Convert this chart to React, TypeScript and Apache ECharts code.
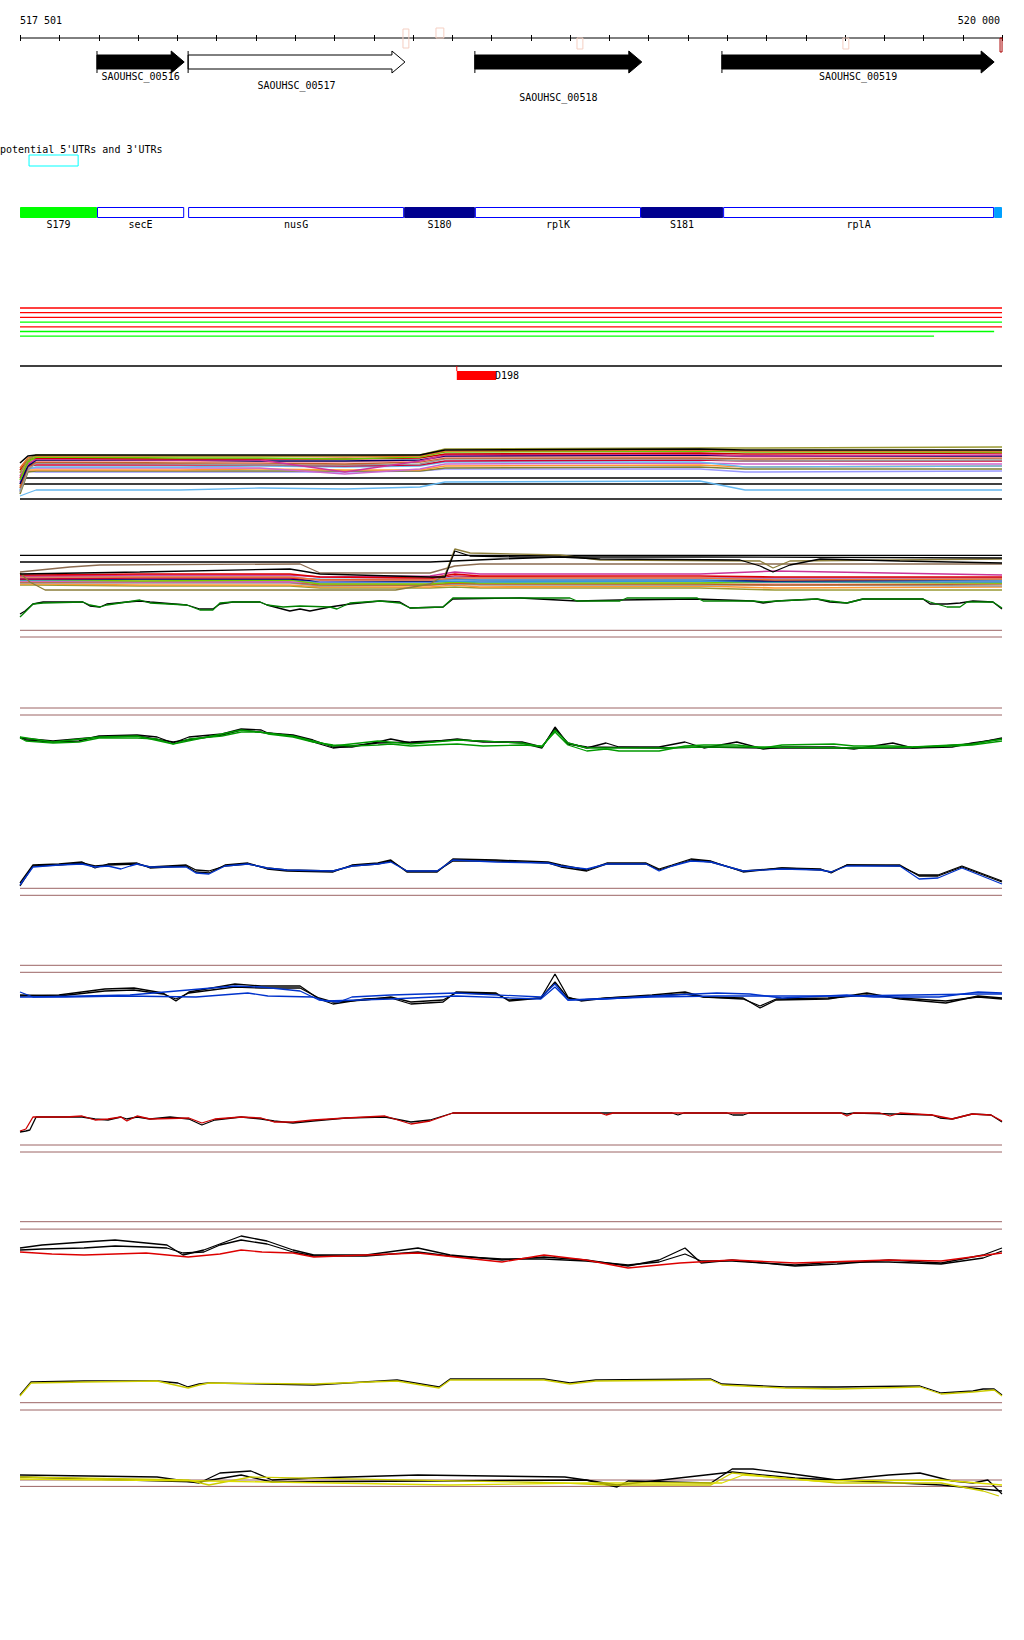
import React, { useEffect, useRef } from "react";
import * as echarts from "echarts";

// ---------- locus ----------
const START = 517500;
const END = 520000;
const FONT_FAMILY = "DejaVu Sans Mono";
const FONT = '10px "DejaVu Sans Mono"';

const rulerTicks = [517500, 517600, 517700, 517800, 517900, 518000, 518100, 518200, 518300, 518400, 518500, 518600, 518700, 518800, 518900, 519000, 519100, 519200, 519300, 519400, 519500, 519600, 519700, 519800, 519900, 520000];
const rulerLabels = ["517 501", "520 000"];

// ---------- genes ----------
const geneNames = ["SAOUHSC_00516", "SAOUHSC_00517", "SAOUHSC_00518", "SAOUHSC_00519"];
const geneStart = [517696, 517928, 518658, 519287];
const geneEnd = [517918, 518480, 519083, 519980];
const geneFilled = [1, 0, 1, 1];
const geneLabelRow = [0, 1, 2, 0];

// small terminator-like boxes near the ruler
const termStart = [518475, 518559, 518918, 519595, 519995];
const termEnd = [518490, 518579, 518933, 519610, 520000];
const termKind = ["both", "up", "down", "down", "end"];

// potential UTRs
const utrLabel = "potential 5'UTRs and 3'UTRs";
const utrStart = [517523];
const utrEnd = [517648];

// segments
const segNames = ["S179", "secE", "nusG", "S180", "rplK", "S181", "rplA", ""];
const segStart = [517500, 517696, 517928, 518478, 518658, 519081, 519290, 519980];
const segEnd = [517696, 517918, 518478, 518658, 519081, 519290, 519980, 520000];
const segType = ["green", "open", "open", "dark", "open", "dark", "open", "light"];

// red / green feature lines
const featColor = ["red", "red", "red", "green", "red", "green", "green"];
const featStart = [517500, 517500, 517500, 517500, 517500, 517500, 517500];
const featEnd = [520000, 520000, 520000, 520000, 520000, 519980, 519827];

// D198
const d198Name = "D198";
const d198Start = [518612];
const d198End = [518712];

// ---------- track A : coverage bundle (positions in bp from 517 500) ----------
const trackA_positions = [0, 20, 41, 407, 611, 827, 1018, 1082, 1731, 1846, 2500];
const trackA_black = [37, 44, 45, 45, 45, 45, 45, 50, 51, 50, 50];
const trackA_olive = [27, 40, 45, 44, 44, 44, 45, 51, 52, 52, 53];
const trackA_orange = [32, 42, 44, 44, 44, 43, 44, 49, 50, 49, 49];
const trackA_lime = [20, 38, 43, 42, 42, 41, 43, 48, 49, 48, 48];
const trackA_red = [30, 40, 42, 41, 41, 41, 42, 46, 47, 46, 47];
const trackA_magenta = [24, 36, 41, 40, 40, 28, 39, 45, 46, 44, 45];
const trackA_navy = [16, 34, 40, 40, 39, 39, 40, 44, 45, 44, 44];
const trackA_pink = [28, 37, 39, 39, 38, 38, 39, 43, 44, 43, 43];
const trackA_sienna = [12, 33, 38, 37, 37, 36, 38, 42, 42, 41, 42];
const trackA_gray = [8, 30, 37, 36, 35, 35, 36, 41, 41, 39, 40];
const trackA_crimson = [22, 34, 35, 35, 35, 34, 35, 39, 40, 39, 39];
const trackA_sky = [10, 31, 33, 33, 34, 33, 34, 38, 38, 33, 34];
const trackA_orchid = [18, 32, 32, 32, 32, 26, 31, 36, 37, 36, 36];
const trackA_orange2 = [14, 30, 30, 30, 31, 30, 30, 34, 35, 33, 34];
const trackA_olive2 = [6, 28, 29, 29, 29, 29, 29, 32, 33, 31, 31];
const trackA_lavender = [9, 29, 28, 28, 28, 28, 29, 31, 31, 28, 29];
const trackA_lightblue = [4, 7, 10, 10, 12, 11, 13, 18, 19, 10, 10];
const trackA_consts = [22, 16, 1];

// ---------- track B : second bundle ----------
const trackB_positions = [0, 38, 305, 687, 764, 1044, 1107, 1171, 1731, 1922, 2500];
const trackB_magenta = [64, 64, 65, 65, 63, 64, 68, 66, 66, 69, 65];
const trackB_red = [65, 65, 66, 66, 63, 62, 66, 64, 64, 63, 63];
const trackB_orange = [63, 63, 63, 63, 60, 60, 62, 62, 62, 60, 61];
const trackB_sky = [62, 62, 62, 62, 61, 60, 60, 60, 60, 61, 60];
const trackB_lime = [60, 60, 59, 60, 56, 56, 58, 57, 57, 58, 57];
const trackB_navy = [61, 61, 61, 61, 59, 59, 61, 60, 60, 59, 60];
const trackB_lavender = [63, 63, 64, 64, 59, 60, 63, 62, 62, 62, 62];
const trackB_sienna = [58, 58, 58, 58, 55, 55, 57, 56, 56, 55, 56];
const trackB_pink = [59, 59, 60, 60, 57, 57, 59, 59, 58, 57, 58];
const trackB_gray = [57, 57, 57, 57, 54, 55, 56, 55, 55, 55, 54];
const trackB_orange2 = [56, 56, 55, 55, 53, 53, 55, 53, 54, 52, 53];
const trackB_olive2 = [55, 55, 54, 54, 52, 52, 53, 52, 52, 50, 50];
const trackB_crimson = [61, 61, 62, 62, 60, 61, 64, 63, 62, 62, 62];
const trackB_orchid = [59, 59, 58, 58, 57, 58, 60, 59, 60, 59, 59];
const trackB_sky2 = [60, 60, 61, 61, 58, 58, 59, 58, 59, 58, 58];
const trackB_brownUpper = [[0, 68], [127, 73], [204, 75], [713, 76], [764, 67], [1044, 67], [1107, 74], [1171, 76], [2500, 76]];
const trackB_blackVar = [[0, 78], [1044, 78], [1222, 81], [1375, 83], [1477, 81], [1833, 80], [1884, 74], [1917, 68], [1960, 75], [2037, 81], [2240, 79], [2500, 77]];
const trackB_blackSpike = [[0, 66], [305, 68], [687, 71], [764, 66], [1044, 63], [1082, 63], [1107, 89], [1146, 84], [1273, 83], [1731, 83], [2500, 82]];
const trackB_oliveSpike = [[0, 67], [25, 58], [64, 50], [956, 50], [1044, 56], [1082, 65], [1107, 91], [1146, 87], [1375, 85], [1477, 80], [1884, 79], [1917, 72], [1960, 79], [2500, 81]];
const trackB_green = [[0, 23], [13, 28], [33, 36], [59, 37], [160, 38], [178, 35], [204, 33], [221, 35], [272, 38], [305, 40], [331, 37], [425, 35], [458, 30], [491, 30], [509, 37], [542, 38], [611, 38], [629, 35], [670, 33], [713, 34], [789, 33], [807, 31], [840, 37], [916, 39], [967, 37], [993, 32], [1077, 33], [1102, 42], [1400, 42], [1418, 39], [1527, 39], [1545, 42], [1724, 42], [1739, 39], [1866, 39], [1892, 38], [1927, 39], [2029, 41], [2062, 39], [2105, 37], [2146, 41], [2299, 41], [2317, 38], [2360, 33], [2393, 33], [2411, 38], [2477, 38], [2500, 32]];
const trackB_black = [[0, 26], [13, 29], [33, 36], [59, 38], [160, 38], [178, 34], [204, 33], [221, 36], [272, 38], [305, 39], [331, 38], [425, 35], [458, 31], [491, 31], [509, 36], [542, 38], [611, 38], [629, 35], [687, 29], [713, 31], [738, 29], [789, 33], [840, 36], [916, 39], [967, 38], [993, 32], [1077, 33], [1102, 41], [1273, 42], [1418, 39], [1527, 40], [1724, 41], [1866, 39], [1892, 37], [1927, 39], [2029, 41], [2062, 38], [2105, 37], [2146, 41], [2299, 41], [2317, 36], [2360, 36], [2393, 37], [2426, 39], [2477, 38], [2500, 31]];
const trackB_blackConsts = [84.7];
const trackB_thresholds = [9.7, 3];

// ---------- track C (green) ----------
const trackC_black1 = [[0, 23], [15, 20], [84, 18], [150, 19], [201, 24], [298, 25], [349, 23], [390, 17], [430, 23], [514, 26], [563, 31], [614, 30], [631, 27], [695, 25], [746, 20], [797, 13], [845, 13], [911, 18], [944, 21], [995, 17], [1044, 18], [1113, 21], [1179, 18], [1278, 18], [1329, 13], [1362, 31], [1395, 17], [1443, 12], [1492, 17], [1525, 13], [1627, 13], [1693, 18], [1741, 12], [1825, 18], [1892, 11], [1940, 13], [2072, 13], [2123, 11], [2222, 17], [2273, 12], [2373, 13], [2424, 17], [2500, 21]];
const trackC_black2 = [[0, 22], [84, 19], [201, 23], [298, 24], [390, 18], [514, 25], [563, 30], [695, 24], [797, 12], [911, 17], [995, 18], [1113, 20], [1278, 17], [1329, 12], [1362, 33], [1395, 16], [1443, 13], [1627, 12], [1741, 13], [1892, 12], [2123, 12], [2273, 12], [2424, 16], [2500, 22]];
const trackC_green1 = [[0, 22], [15, 19], [84, 17], [150, 18], [201, 22], [298, 22], [349, 21], [390, 16], [430, 21], [514, 24], [563, 28], [614, 28], [631, 26], [695, 23], [746, 18], [797, 15], [845, 14], [911, 15], [944, 16], [995, 14], [1044, 15], [1113, 16], [1179, 14], [1278, 15], [1329, 14], [1362, 28], [1395, 15], [1443, 9], [1492, 11], [1525, 9], [1627, 9], [1693, 14], [1741, 15], [1825, 15], [1892, 12], [1940, 15], [2072, 16], [2123, 14], [2222, 14], [2273, 13], [2373, 14], [2424, 15], [2500, 19]];
const trackC_green2 = [[0, 23], [84, 18], [201, 23], [298, 24], [390, 16], [514, 26], [563, 30], [695, 24], [797, 14], [911, 19], [995, 16], [1113, 20], [1278, 17], [1329, 13], [1362, 30], [1395, 17], [1443, 12], [1627, 12], [1741, 13], [1892, 13], [2123, 12], [2273, 13], [2424, 16], [2500, 21]];
const trackC_thresholds = [52, 45];

// ---------- track D (blue) ----------
const trackD_black1 = [[0, 17], [33, 35], [99, 36], [158, 38], [191, 32], [224, 36], [298, 37], [331, 32], [423, 34], [448, 28], [481, 27], [522, 35], [580, 37], [629, 31], [680, 29], [797, 28], [845, 35], [911, 37], [944, 40], [985, 28], [1062, 28], [1102, 41], [1212, 40], [1344, 38], [1377, 35], [1443, 30], [1494, 37], [1594, 37], [1627, 31], [1660, 35], [1708, 41], [1759, 39], [1841, 28], [1940, 32], [2039, 31], [2065, 27], [2105, 35], [2240, 35], [2289, 24], [2337, 24], [2398, 33], [2500, 18]];
const trackD_black2 = [[0, 14], [33, 34], [99, 35], [158, 37], [191, 34], [224, 35], [298, 36], [331, 33], [423, 35], [448, 30], [481, 29], [522, 34], [580, 36], [629, 32], [680, 30], [797, 29], [845, 34], [911, 36], [944, 39], [985, 29], [1062, 29], [1102, 39], [1212, 39], [1344, 37], [1377, 33], [1443, 29], [1494, 36], [1594, 36], [1627, 30], [1660, 34], [1708, 40], [1759, 38], [1841, 29], [1940, 32], [2039, 30], [2065, 28], [2105, 35], [2240, 34], [2289, 25], [2337, 25], [2398, 34], [2500, 19]];
const trackD_blue1 = [[0, 15], [33, 33], [99, 35], [158, 36], [191, 33], [224, 34], [257, 31], [280, 34], [298, 36], [331, 33], [423, 33], [448, 27], [481, 26], [522, 34], [580, 36], [629, 32], [680, 30], [797, 29], [845, 34], [911, 36], [944, 38], [985, 29], [1062, 29], [1102, 40], [1212, 38], [1344, 37], [1377, 34], [1443, 31], [1494, 36], [1594, 36], [1627, 29], [1660, 34], [1708, 39], [1759, 38], [1841, 29], [1940, 31], [2039, 30], [2065, 28], [2105, 34], [2240, 34], [2289, 21], [2337, 22], [2398, 32], [2500, 16]];
const trackD_thresholds = [11.7, 4.7];

// ---------- track E (blue) ----------
const trackE_black1 = [[0, 24], [99, 25], [216, 31], [290, 32], [364, 27], [397, 19], [430, 28], [547, 36], [614, 34], [713, 34], [761, 21], [797, 16], [878, 21], [944, 22], [995, 16], [1077, 18], [1110, 28], [1212, 27], [1245, 19], [1326, 22], [1362, 46], [1395, 23], [1428, 19], [1494, 22], [1609, 25], [1693, 28], [1741, 23], [1841, 22], [1884, 12], [1925, 20], [2057, 21], [2156, 27], [2240, 21], [2357, 17], [2439, 24], [2500, 22]];
const trackE_black2 = [[0, 25], [99, 24], [216, 29], [290, 30], [364, 26], [397, 21], [430, 27], [547, 33], [614, 32], [713, 32], [761, 22], [797, 18], [878, 20], [944, 23], [995, 18], [1077, 20], [1110, 27], [1212, 26], [1245, 20], [1326, 22], [1362, 38], [1395, 22], [1428, 20], [1494, 22], [1609, 24], [1693, 26], [1741, 23], [1841, 21], [1884, 14], [1925, 21], [2057, 22], [2156, 25], [2240, 22], [2357, 19], [2439, 23], [2500, 21]];
const trackE_blue1 = [[0, 28], [33, 23], [280, 25], [547, 34], [614, 33], [713, 29], [761, 20], [812, 18], [845, 23], [944, 25], [1110, 27], [1326, 23], [1362, 36], [1395, 20], [1492, 21], [1609, 24], [1774, 27], [1858, 26], [1940, 22], [2105, 25], [2174, 23], [2340, 23], [2439, 28], [2500, 27]];
const trackE_blue2 = [[0, 23], [117, 23], [265, 24], [448, 23], [580, 27], [631, 24], [746, 23], [779, 19], [944, 21], [1110, 24], [1326, 21], [1362, 33], [1395, 20], [1609, 23], [1774, 24], [2105, 24], [2439, 26], [2500, 26]];
const trackE_thresholds = [54.7, 47.7];

// ---------- track F (red) ----------
const trackF_red = [[0, 29], [15, 31], [33, 43], [117, 43], [158, 44], [191, 40], [224, 41], [257, 43], [272, 39], [298, 44], [331, 41], [430, 42], [463, 37], [496, 41], [563, 43], [614, 42], [647, 38], [695, 38], [746, 40], [830, 42], [929, 44], [995, 36], [1044, 39], [1102, 47], [1477, 47], [1492, 45], [1510, 47], [2090, 47], [2105, 44], [2123, 47], [2189, 47], [2215, 44], [2240, 47], [2322, 45], [2373, 41], [2424, 46], [2472, 45], [2500, 39]];
const trackF_black = [[0, 28], [15, 29], [25, 30], [41, 43], [117, 43], [158, 43], [191, 41], [224, 40], [257, 43], [272, 41], [298, 43], [331, 41], [382, 43], [430, 41], [463, 35], [496, 40], [563, 43], [614, 41], [647, 39], [695, 37], [746, 39], [830, 42], [929, 43], [995, 38], [1044, 40], [1102, 47], [1660, 47], [1675, 45], [1690, 47], [1800, 47], [1815, 45], [1841, 45], [1856, 47], [2090, 47], [2105, 46], [2123, 47], [2322, 45], [2342, 42], [2373, 41], [2424, 46], [2472, 45], [2500, 38]];
const trackF_thresholds = [15, 8];

// ---------- track G (red) ----------
const trackG_black1 = [[0, 32], [56, 35], [163, 38], [242, 40], [321, 37], [374, 35], [415, 25], [468, 30], [563, 44], [629, 39], [695, 30], [748, 25], [881, 25], [1013, 32], [1095, 25], [1227, 20], [1334, 23], [1441, 20], [1548, 14], [1627, 20], [1693, 32], [1734, 17], [1813, 20], [1973, 14], [2080, 16], [2212, 20], [2345, 17], [2452, 25], [2500, 32]];
const trackG_black2 = [[0, 30], [56, 31], [163, 32], [242, 34], [321, 33], [374, 32], [415, 27], [468, 28], [509, 35], [563, 40], [629, 36], [695, 28], [748, 24], [881, 24], [1013, 28], [1095, 24], [1227, 21], [1334, 21], [1441, 19], [1548, 15], [1627, 18], [1693, 26], [1734, 19], [1813, 19], [1973, 15], [2080, 18], [2212, 18], [2345, 16], [2452, 22], [2500, 29]];
const trackG_red = [[0, 28], [81, 26], [163, 25], [321, 27], [428, 23], [509, 26], [563, 30], [616, 28], [695, 27], [748, 23], [1013, 27], [1227, 18], [1334, 25], [1441, 20], [1548, 12], [1680, 17], [1813, 20], [1973, 17], [2212, 20], [2345, 19], [2500, 27]];
const trackG_thresholds = [58.3, 50.9];

// ---------- track H (yellow) ----------
const trackH_yellow = [[0, 24], [28, 37], [163, 38], [349, 39], [428, 32], [456, 35], [481, 37], [748, 36], [960, 39], [1067, 32], [1095, 40], [1334, 40], [1400, 36], [1466, 39], [1759, 40], [1787, 35], [1948, 32], [2080, 31], [2291, 33], [2345, 26], [2426, 28], [2452, 29], [2480, 30], [2500, 24]];
const trackH_black = [[0, 25], [28, 38], [163, 39], [349, 39], [402, 37], [428, 33], [456, 36], [481, 37], [748, 35], [960, 40], [1067, 33], [1095, 41], [1334, 41], [1400, 37], [1466, 40], [1759, 41], [1787, 36], [1948, 33], [2080, 33], [2291, 34], [2345, 27], [2426, 29], [2452, 31], [2480, 31], [2500, 25]];
const trackH_thresholds = [17.3, 10];

// ---------- track I (yellow) ----------
const trackI_black1 = [[0, 35], [349, 33], [456, 27], [509, 37], [588, 39], [642, 30], [748, 32], [1013, 35], [1387, 33], [1441, 30], [1520, 23], [1548, 29], [1759, 27], [1813, 41], [1866, 41], [1948, 37], [2080, 30], [2212, 35], [2291, 37], [2373, 29], [2426, 27], [2464, 30], [2500, 16]];
const trackI_black2 = [[0, 33], [456, 28], [563, 35], [642, 28], [1441, 30], [1520, 25], [1813, 38], [1973, 32], [2345, 25], [2500, 19]];
const trackI_yellow1 = [[0, 33], [428, 30], [481, 25], [588, 33], [1387, 27], [1494, 25], [1759, 25], [1813, 37], [1866, 35], [2080, 27], [2345, 27], [2452, 19], [2492, 14]];
const trackI_yellow2 = [[0, 31], [481, 29], [1095, 25], [1441, 27], [1787, 27], [1841, 35], [2026, 29], [2345, 30], [2500, 25]];
const trackI_thresholds = [30, 23.6];

// ---------- layout (pixels) ----------
const L = {
  left: 20, width: 982,
  rulerY: 38, tickHalf: 3, rulerLabelY: 20, rulerRightX: 1000,
  bodyTop: 55, bodyBottom: 69, headTop: 51, headBottom: 73, mid: 62, head: 13,
  geneLabelY: [76, 85, 97],
  term: { both: [29, 48], up: [28, 38], down: [38, 49], end: [38, 52] } as Record<string, number[]>,
  utrLabelX: 0, utrLabelY: 149, utrTop: 155, utrBottom: 166,
  segTop: 207, segBottom: 218, segLabelY: 224,
  featY0: 308, featDy: 4.7,
  d198LineY: 366, d198Top: 371, d198Bottom: 380, d198LabelY: 375,
};

const TRACKS = [
  { base: 500, height: 70 },  // A
  { base: 640, height: 100 }, // B
  { base: 760, height: 60 },  // C
  { base: 900, height: 60 },  // D
  { base: 1020, height: 60 }, // E
  { base: 1160, height: 60 }, // F
  { base: 1280, height: 70 }, // G
  { base: 1420, height: 60 }, // H
  { base: 1510, height: 60 }, // I
];

const BROWN = "#9c6464";
const COL = {
  red: "#ff0000", green: "#00ff00", blueBorder: "#0000ff", dark: "#00008f", light: "#00a0ff",
  segGreen: "#00ff00", term: "#f5cfc2", termEnd: "#aa0000", cyan: "#00ffff",
};
const CURVE_W = 1.3;
const BUNDLE_W = 1.6;

function buildOption() {
  const grids: any[] = [{ left: L.left, width: L.width, top: 0, height: 1640 }];
  const xAxes: any[] = [{ gridIndex: 0, type: "value", min: START, max: END, show: false }];
  const yAxes: any[] = [{ gridIndex: 0, type: "value", min: 0, max: 1640, inverse: true, show: false }];
  TRACKS.forEach((t, i) => {
    grids.push({ left: L.left, width: L.width, top: t.base - t.height, height: t.height });
    xAxes.push({ gridIndex: i + 1, type: "value", min: START, max: END, show: false });
    yAxes.push({ gridIndex: i + 1, type: "value", min: 0, max: t.height, show: false });
  });

  const series: any[] = [];
  const xOf = (api: any, v: number) => api.coord([v, 0])[0];
  const txt = (text: string, x: number, y: number, align = "center") => ({
    type: "text",
    style: {
      text, x, y, fill: "#000", font: FONT, fontFamily: FONT_FAMILY, fontSize: 10,
      textAlign: align, textVerticalAlign: "middle", align, verticalAlign: "middle",
    },
  });

  // ruler line
  series.push({
    type: "custom", xAxisIndex: 0, yAxisIndex: 0, silent: true,
    data: [[START, END]],
    renderItem: (p: any, api: any) => ({
      type: "line",
      shape: { x1: xOf(api, api.value(0)), y1: L.rulerY, x2: xOf(api, api.value(1)), y2: L.rulerY },
      style: { stroke: "#000", lineWidth: 1 },
    }),
  });
  // ruler ticks
  series.push({
    type: "custom", xAxisIndex: 0, yAxisIndex: 0, silent: true,
    data: rulerTicks.map((t) => [t, 0]),
    renderItem: (p: any, api: any) => {
      const x = Math.round(xOf(api, api.value(0))) + 0.5;
      return { type: "line", shape: { x1: x, y1: L.rulerY - L.tickHalf, x2: x, y2: L.rulerY + L.tickHalf }, style: { stroke: "#000", lineWidth: 1 } };
    },
  });
  // terminator boxes
  series.push({
    type: "custom", xAxisIndex: 0, yAxisIndex: 0, silent: true,
    data: termStart.map((s, i) => [s, termEnd[i], i]),
    renderItem: (p: any, api: any) => {
      const i = p.dataIndex;
      const x0 = xOf(api, api.value(0));
      const x1 = xOf(api, api.value(1));
      const [y0, y1] = L.term[termKind[i]];
      return {
        type: "rect", shape: { x: x0, y: y0, width: Math.max(2, x1 - x0), height: y1 - y0 },
        style: { fill: "none", stroke: termKind[i] === "end" ? COL.termEnd : COL.term, lineWidth: 1 },
      };
    },
  });
  // genes
  series.push({
    type: "custom", xAxisIndex: 0, yAxisIndex: 0, silent: true,
    data: geneStart.map((s, i) => [s, geneEnd[i], geneFilled[i], geneLabelRow[i]]),
    renderItem: (p: any, api: any) => {
      const i = p.dataIndex;
      const x0 = xOf(api, api.value(0));
      const x1 = xOf(api, api.value(1));
      const xh = x1 - L.head;
      const filled = api.value(2) === 1;
      return {
        type: "group",
        children: [
          {
            type: "polygon",
            shape: { points: [[x0, L.bodyTop], [xh, L.bodyTop], [xh, L.headTop], [x1, L.mid], [xh, L.headBottom], [xh, L.bodyBottom], [x0, L.bodyBottom]] },
            style: { fill: filled ? "#000" : "#fff", stroke: "#000", lineWidth: 1 },
          },
          { type: "line", shape: { x1: x0, y1: L.headTop, x2: x0, y2: L.headBottom }, style: { stroke: "#000", lineWidth: 1 } },
          txt(geneNames[i], (x0 + x1) / 2, L.geneLabelY[api.value(3)]),
        ],
      };
    },
  });
  // UTR box
  series.push({
    type: "custom", xAxisIndex: 0, yAxisIndex: 0, silent: true,
    data: utrStart.map((s, i) => [s, utrEnd[i]]),
    renderItem: (p: any, api: any) => {
      const x0 = xOf(api, api.value(0));
      const x1 = xOf(api, api.value(1));
      return { type: "rect", shape: { x: x0, y: L.utrTop, width: x1 - x0, height: L.utrBottom - L.utrTop }, style: { fill: "none", stroke: COL.cyan, lineWidth: 1 } };
    },
  });
  // segments
  series.push({
    type: "custom", xAxisIndex: 0, yAxisIndex: 0, silent: true,
    data: segStart.map((s, i) => [s, segEnd[i], i]),
    renderItem: (p: any, api: any) => {
      const i = p.dataIndex;
      const x0 = xOf(api, api.value(0));
      const x1 = xOf(api, api.value(1));
      const t = segType[i];
      const fill = t === "green" ? COL.segGreen : t === "dark" ? COL.dark : t === "light" ? COL.light : "#fff";
      const stroke = t === "open" ? COL.blueBorder : fill;
      const children: any[] = [
        { type: "rect", shape: { x: x0 + 0.5, y: L.segTop + 0.5, width: x1 - x0 - 1, height: L.segBottom - L.segTop - 1 }, style: { fill, stroke, lineWidth: 1 } },
      ];
      if (segNames[i]) children.push(txt(segNames[i], (x0 + x1) / 2, L.segLabelY));
      return { type: "group", children };
    },
  });
  // feature lines
  series.push({
    type: "custom", xAxisIndex: 0, yAxisIndex: 0, silent: true,
    data: featStart.map((s, i) => [s, featEnd[i], i]),
    renderItem: (p: any, api: any) => {
      const i = p.dataIndex;
      const y = L.featY0 + i * L.featDy;
      return {
        type: "line",
        shape: { x1: xOf(api, api.value(0)), y1: y, x2: xOf(api, api.value(1)), y2: y },
        style: { stroke: featColor[i] === "red" ? COL.red : COL.green, lineWidth: 1.3 },
      };
    },
  });
  // D198 track
  series.push({
    type: "custom", xAxisIndex: 0, yAxisIndex: 0, silent: true,
    data: d198Start.map((s, i) => [s, d198End[i]]),
    renderItem: (p: any, api: any) => {
      const x0 = xOf(api, api.value(0));
      const x1 = xOf(api, api.value(1));
      return {
        type: "group",
        children: [
          { type: "line", shape: { x1: xOf(api, START), y1: L.d198LineY, x2: xOf(api, END), y2: L.d198LineY }, style: { stroke: "#000", lineWidth: 1.3 } },
          { type: "line", shape: { x1: x0, y1: L.d198LineY, x2: x0, y2: L.d198Top }, style: { stroke: COL.red, lineWidth: 1 } },
          { type: "rect", shape: { x: x0, y: L.d198Top, width: x1 - x0, height: L.d198Bottom - L.d198Top }, style: { fill: COL.red } },
          txt(d198Name, x1 - 1, L.d198LabelY, "left"),
        ],
      };
    },
  });

  // ---- curve tracks ----
  const line = (g: number, data: number[][], color: string, width = CURVE_W) => ({
    type: "line", xAxisIndex: g, yAxisIndex: g, silent: true, symbol: "none", showSymbol: false,
    data: data.map(([o, v]) => [START + o, v]),
    lineStyle: { color, width }, emphasis: { disabled: true },
  });
  const bundle = (g: number, pos: number[], vals: number[], color: string) =>
    line(g, pos.map((p, i) => [p, vals[i]]), color, BUNDLE_W);
  const constLine = (g: number, v: number, color: string, width = 1) => line(g, [[0, v], [END - START, v]], color, width);

  // A
  trackA_consts.forEach((v) => series.push(constLine(1, v, "#000", 1.3)));
  series.push(line(1, trackA_positions.map((p, i) => [p, trackA_lightblue[i]]), "#66b8f0", 1.3));
  const aLines: [number[], string][] = [
    [trackA_lavender, "#9999ff"], [trackA_olive2, "#808033"], [trackA_orange2, "#ff9933"], [trackA_orchid, "#cc66cc"],
    [trackA_sky, "#66bbee"], [trackA_crimson, "#cc0033"], [trackA_gray, "#999999"], [trackA_sienna, "#c0602a"],
    [trackA_pink, "#ff9999"], [trackA_navy, "#000066"], [trackA_magenta, "#cc3399"], [trackA_red, "#cc0000"],
    [trackA_lime, "#66cc00"], [trackA_orange, "#e8702a"], [trackA_olive, "#999933"], [trackA_black, "#000000"],
  ];
  aLines.forEach(([v, c]) => series.push(bundle(1, trackA_positions, v, c)));

  // B
  trackB_blackConsts.forEach((v) => series.push(constLine(2, v, "#000", 1.3)));
  trackB_thresholds.forEach((v) => series.push(constLine(2, v, BROWN)));
  const bLines: [number[], string][] = [
    [trackB_olive2, "#999933"], [trackB_orange2, "#ff9933"], [trackB_gray, "#999999"], [trackB_sienna, "#c0602a"],
    [trackB_pink, "#ff9999"], [trackB_orchid, "#cc66cc"], [trackB_lime, "#77cc00"], [trackB_sky2, "#3399dd"],
    [trackB_navy, "#000066"], [trackB_sky, "#66bbee"], [trackB_crimson, "#cc0033"], [trackB_lavender, "#aa99ee"],
    [trackB_orange, "#ee7733"], [trackB_magenta, "#cc3399"], [trackB_red, "#dd0000"],
  ];
  bLines.forEach(([v, c]) => series.push(bundle(2, trackB_positions, v, c)));
  series.push(line(2, trackB_brownUpper, "#8b6b50"));
  series.push(line(2, trackB_oliveSpike, "#8b7d3a"));
  series.push(line(2, trackB_blackSpike, "#000"));
  series.push(line(2, trackB_blackVar, "#000"));
  series.push(line(2, trackB_black, "#000"));
  series.push(line(2, trackB_green, "#008000"));

  // C
  trackC_thresholds.forEach((v) => series.push(constLine(3, v, BROWN)));
  series.push(line(3, trackC_black1, "#000"));
  series.push(line(3, trackC_black2, "#000"));
  series.push(line(3, trackC_green1, "#009900"));
  series.push(line(3, trackC_green2, "#009900"));
  // D
  trackD_thresholds.forEach((v) => series.push(constLine(4, v, BROWN)));
  series.push(line(4, trackD_black1, "#000"));
  series.push(line(4, trackD_black2, "#000"));
  series.push(line(4, trackD_blue1, "#0033cc"));
  // E
  trackE_thresholds.forEach((v) => series.push(constLine(5, v, BROWN)));
  series.push(line(5, trackE_black1, "#000"));
  series.push(line(5, trackE_black2, "#000"));
  series.push(line(5, trackE_blue1, "#0033cc"));
  series.push(line(5, trackE_blue2, "#0033cc"));
  // F
  trackF_thresholds.forEach((v) => series.push(constLine(6, v, BROWN)));
  series.push(line(6, trackF_black, "#000"));
  series.push(line(6, trackF_red, "#cc0000"));
  // G
  trackG_thresholds.forEach((v) => series.push(constLine(7, v, BROWN)));
  series.push(line(7, trackG_black1, "#000"));
  series.push(line(7, trackG_black2, "#000"));
  series.push(line(7, trackG_red, "#dd0000"));
  // H
  trackH_thresholds.forEach((v) => series.push(constLine(8, v, BROWN)));
  series.push(line(8, trackH_black, "#000"));
  series.push(line(8, trackH_yellow, "#cccc00"));
  // I
  trackI_thresholds.forEach((v) => series.push(constLine(9, v, BROWN)));
  series.push(line(9, trackI_black1, "#000"));
  series.push(line(9, trackI_black2, "#000"));
  series.push(line(9, trackI_yellow1, "#cccc00"));
  series.push(line(9, trackI_yellow2, "#dddd00"));

  const gtext = (text: string, x: number, y: number, align: string) => ({
    type: "text", x, y, silent: true,
    style: { text, fill: "#000", font: FONT, fontFamily: FONT_FAMILY, fontSize: 10, textAlign: align, textVerticalAlign: "middle", align, verticalAlign: "middle" },
  });

  return {
    animation: false,
    backgroundColor: "#ffffff",
    grid: grids,
    xAxis: xAxes,
    yAxis: yAxes,
    series,
    graphic: [
      gtext(rulerLabels[0], L.left, L.rulerLabelY, "left"),
      gtext(rulerLabels[1], L.rulerRightX, L.rulerLabelY, "right"),
      gtext(utrLabel, L.utrLabelX, L.utrLabelY, "left"),
    ],
  };
}

export default function App() {
  const ref = useRef<HTMLDivElement>(null);
  useEffect(() => {
    if (!ref.current) return;
    const chart = echarts.init(ref.current, null, { renderer: "svg" });
    chart.setOption(buildOption() as any);
    return () => chart.dispose();
  }, []);
  return (
    <div
      ref={ref}
      style={{ position: "absolute", left: 0, top: 0, width: 1024, height: 1640, background: "#fff" }}
    />
  );
}
